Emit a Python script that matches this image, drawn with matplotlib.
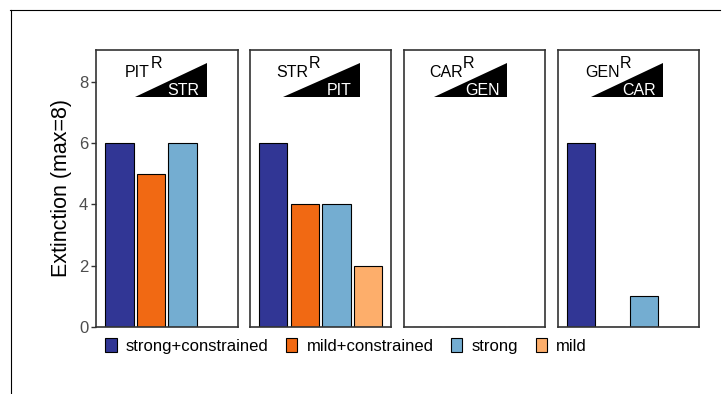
import numpy as np
import matplotlib
matplotlib.use('Agg')
import matplotlib.pyplot as plt
from matplotlib.patches import Patch, Polygon
from matplotlib.lines import Line2D

plt.rcParams['font.family'] = ['Liberation Sans', 'DejaVu Sans']

#panel labels (resistant pathogen / target of the weak side)
panel_main = ['PIT', 'STR', 'CAR', 'GEN']
panel_target = ['STR', 'PIT', 'GEN', 'CAR']

#treatments
treatments = ['strong+constrained', 'mild+constrained', 'strong', 'mild']
colors = ['#313695', '#f16913', '#74add1', '#fdae6b']

#extinctions per panel (max=8)
ext_pit = [6, 5, 6, 0]
ext_str = [6, 4, 4, 2]
ext_car = [0, 0, 0, 0]
ext_gen = [6, 0, 1, 0]
extinctions = [ext_pit, ext_str, ext_car, ext_gen]

yticks = [0, 2, 4, 6, 8]

W, H = 725, 394
fig = plt.figure(figsize=(W / 100, H / 100), dpi=100)

#triangle position per panel (axes fraction)
tri_x = [(0.276, 0.782), (0.235, 0.777), (0.214, 0.730), (0.235, 0.746)]
lab_x = [0.205, 0.189, 0.177, 0.193]

x = np.arange(len(treatments))
for i in range(4):
    left = (96 + i * 153.9) / W
    ax = fig.add_axes([left, (H - 326.7) / H, 141.5 / W, 276.7 / H])
    ax.bar(x, extinctions[i], width=0.9, color=colors,
           edgecolor='black', linewidth=0.8, zorder=1)
    ax.set_xlim(-0.74, 3.74)
    ax.set_ylim(0, 9.05)
    ax.set_xticks([])
    for sp in ax.spines.values():
        sp.set_color('#333333')
        sp.set_linewidth(1.2)
        sp.set_zorder(3)
    if i == 0:
        ax.set_yticks(yticks)
        ax.tick_params(axis='y', length=3.5, width=1, color='#333333',
                       labelcolor='#4d4d4d', labelsize=12, pad=2)
    else:
        ax.set_yticks([])

    #header: black triangle + labels
    x0, x1 = tri_x[i]
    tri = Polygon([(x0, 0.829), (x1, 0.829), (x1, 0.953)], closed=True,
                  transform=ax.transAxes, facecolor='black',
                  edgecolor='none', zorder=4)
    ax.add_patch(tri)
    ax.text(x1 - 0.055, 0.837, panel_target[i], transform=ax.transAxes,
            color='white', fontsize=11.5, ha='right', va='baseline', zorder=5)
    t = ax.text(lab_x[i], 0.904, panel_main[i], transform=ax.transAxes,
                fontsize=11.5, ha='left', va='baseline', zorder=5)
    ax.annotate('R', xy=(1, 0.78), xycoords=t, xytext=(0.3, 0),
                textcoords='offset points', fontsize=11.5,
                ha='left', va='baseline', zorder=5)

fig.text(61 / W, 1 - 188 / H, 'Extinction (max=8)', rotation=90,
         fontsize=15.5, ha='center', va='center')

handles = [Patch(facecolor=c, edgecolor='black', linewidth=0.8) for c in colors]
fig.legend(handles, treatments, loc='center', ncol=4, frameon=False,
           bbox_to_anchor=(346 / W, 1 - 346 / H), fontsize=12,
           handlelength=0.68, handleheight=0.86, handletextpad=0.55,
           columnspacing=1.05, borderpad=0)

#thin outer frame (top and left only)
fig.add_artist(Line2D([10 / W, 720 / W], [1 - 9.5 / H, 1 - 9.5 / H],
                      color='black', linewidth=0.8))
fig.add_artist(Line2D([11 / W, 11 / W], [1 - 9.5 / H, 0],
                      color='black', linewidth=0.8))

fig.savefig('out.png', dpi=100)
